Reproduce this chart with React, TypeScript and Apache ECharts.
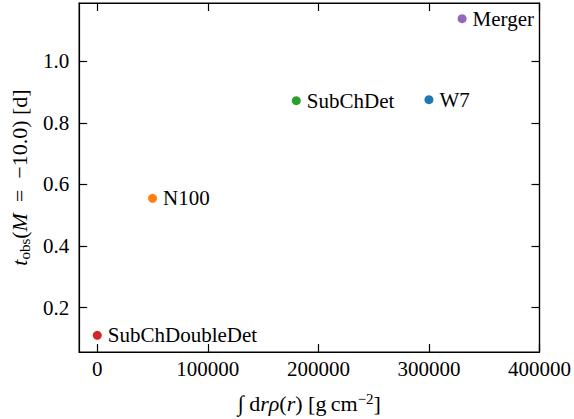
import React, { useEffect, useRef } from "react";
import * as echarts from "echarts";

const modelNames = ["W7", "N100", "SubChDet", "SubChDoubleDet", "Merger"];
const columnDensity = [300000, 50000, 180000, 0, 330000];
const tObs = [0.875, 0.555, 0.872, 0.11, 1.138];
const palette = ["#1f77b4", "#ff7f0e", "#2ca02c", "#d62728", "#9467bd"];
const xTicks = [0, 100000, 200000, 300000, 400000];
const yTicks = [0.2, 0.4, 0.6, 0.8, 1.0];
const xRange = [-16400, 400000];
const yRange = [0.056, 1.189];

const FONT = "Liberation Serif";
const FS = 21;
const NFS = 22;

export default function App() {
  const ref = useRef<HTMLDivElement>(null);
  useEffect(() => {
    if (!ref.current) return;
    const chart = echarts.init(ref.current, undefined, { renderer: "svg" });
    const tickCommon = {
      show: true,
      inside: true,
      length: 8,
      lineStyle: { color: "#000", width: 1.2 },
    };
    const lineCommon = { show: true, onZero: false, lineStyle: { color: "#000", width: 1.2 } };
    const labelStyle = { color: "#000", fontFamily: FONT, fontSize: FS };
    chart.setOption({
      animation: false,
      grid: {
        left: 78,
        right: 33,
        top: 3,
        bottom: 67,
        show: true,
        borderColor: "#000",
        borderWidth: 1.2,
      },
      xAxis: [
        {
          type: "value",
          min: xRange[0],
          max: xRange[1],
          position: "bottom",
          axisLine: lineCommon,
          axisTick: { ...tickCommon, customValues: xTicks },
          axisLabel: {
            ...labelStyle,
            margin: 6,
            customValues: xTicks,
            formatter: (v: number) => String(v),
          },
          splitLine: { show: false },
          name: "{n|∫ d}{i|r}{i|ρ}{n|(}{i|r}{n|) [g\u2009cm}{sup|−2}{n|]}",
          nameLocation: "middle",
          nameGap: 39,
          nameTextStyle: {
            rich: {
              n: { fontFamily: FONT, fontSize: NFS, color: "#000", lineHeight: 24 },
              i: { fontFamily: FONT, fontSize: NFS, fontStyle: "italic", color: "#000", lineHeight: 24 },
              sup: { fontFamily: FONT, fontSize: 15, color: "#000", verticalAlign: "top", lineHeight: 14 },
            },
          },
        },
        {
          type: "value",
          min: xRange[0],
          max: xRange[1],
          position: "top",
          axisLine: lineCommon,
          axisTick: { ...tickCommon, customValues: xTicks },
          axisLabel: { show: false },
          splitLine: { show: false },
        },
      ],
      yAxis: [
        {
          type: "value",
          min: yRange[0],
          max: yRange[1],
          position: "left",
          axisLine: lineCommon,
          axisTick: { ...tickCommon, customValues: yTicks },
          axisLabel: {
            ...labelStyle,
            margin: 10,
            customValues: yTicks,
            formatter: (v: number) => v.toFixed(1),
          },
          splitLine: { show: false },
          name: "{i|t}{sub|obs}{n|(}{i|M}{n|  =  −10.0) [d]}",
          nameLocation: "middle",
          nameGap: 35,
          nameTextStyle: {
            rich: {
              n: { fontFamily: FONT, fontSize: NFS, color: "#000", lineHeight: 26 },
              i: { fontFamily: FONT, fontSize: NFS, fontStyle: "italic", color: "#000", lineHeight: 26 },
              sub: { fontFamily: FONT, fontSize: 15, color: "#000", verticalAlign: "bottom", lineHeight: 15 },
            },
          },
        },
        {
          type: "value",
          min: yRange[0],
          max: yRange[1],
          position: "right",
          axisLine: lineCommon,
          axisTick: { ...tickCommon, customValues: yTicks },
          axisLabel: { show: false },
          splitLine: { show: false },
        },
      ],
      series: [
        {
          type: "scatter",
          xAxisIndex: 0,
          yAxisIndex: 0,
          symbolSize: 9,
          itemStyle: { opacity: 1 },
          data: modelNames.map((n, i) => ({
            name: n,
            value: [columnDensity[i], tObs[i]],
            itemStyle: { color: palette[i], opacity: 1 },
          })),
          label: {
            show: true,
            position: "right",
            distance: 6,
            formatter: (p: any) => p.name,
            color: "#000",
            fontFamily: FONT,
            fontSize: FS,
          },
        },
      ],
    });
    return () => chart.dispose();
  }, []);
  return <div ref={ref} style={{ width: 574, height: 419, position: "absolute", left: 0, top: 0 }} />;
}
